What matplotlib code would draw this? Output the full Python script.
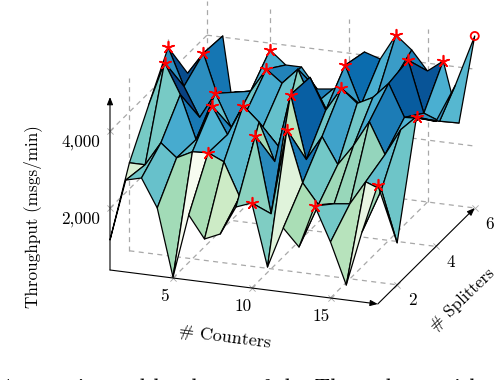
import numpy as np
import matplotlib
matplotlib.use("Agg")
import matplotlib.pyplot as plt
from mpl_toolkits.mplot3d.art3d import Line3DCollection

plt.rcParams['font.family'] = ['cmr10', 'DejaVu Serif']
plt.rcParams['axes.formatter.use_mathtext'] = True

counters = np.arange(1, 19)
splitters = np.arange(1, 7)

# Throughput (msgs/min), one list per number of splitters
thr_s1 = [1170,2780,2886,2158,416,2080,1508,1690,2444,2600,988,2054,1612,2730,1846,780,2210,3484]
thr_s2 = [2678,2678,3302,2964,3172,3198,3016,2158,3796,1820,4056,2730,2210,2288,2340,2964,2808,1482]
thr_s3 = [3692,4836,4056,2938,3874,3172,3978,3600,2626,4420,2782,3432,2756,3302,3978,3172,3874,4264]
thr_s4 = [4680,3718,2964,3640,2808,3302,2912,2470,3588,4368,3562,4186,3848,4056,4472,3640,3666,3640]
thr_s5 = [3510,4082,2912,3172,3250,3874,3562,3978,3094,2886,4238,3250,3510,3952,4576,3250,3094,4082]
thr_s6 = [3432,4030,1274,2704,3822,3484,3484,2964,3016,3172,4082,3952,4628,4290,3796,4108,2548,4862]

star_counters  = [1,2,2,5,6,4,5,7,10,9,11,6,10,14,18,12,11,13,15,16,18]
star_splitters = [4,3,5,6,5,4,3,3,3,2,2,2,1,1,1,4,5,6,5,6,3]
best_counter, best_splitter = 18, 6

xticks = [5, 10, 15]
yticks = [2, 4, 6]
zticks = [2000, 4000]
xmin, xmax, ymin, ymax, zmin, zmax = 1, 18, 1, 6, 390, 4888

Z = np.array([thr_s1, thr_s2, thr_s3, thr_s4, thr_s5, thr_s6], dtype=float)
X, Y = np.meshgrid(counters, splitters)

# Oblique projection of the pgfplots axis box, in figure pixels
EX, EY, EZ = (15.75, 2.0), (19.4, -19.2), (0.0, -1 / 26)
OX, OY = 110.0, 270.0
M = np.array([
    [EX[0], EY[0], EZ[0], OX - EX[0] * xmin - EY[0] * ymin],
    [EX[1], EY[1], EZ[1], OY - EX[1] * xmin - EY[1] * ymin - EZ[1] * zmin],
    [-1.0, 100.0, 0.0, 0.0],
    [0.0, 0.0, 0.0, 1.0],
])


def px(x, y, z):
    v = M @ np.array([x, y, z, 1.0])
    return v[0], v[1]


fig = plt.figure(figsize=(4.96, 3.80), dpi=100)
ax = fig.add_axes([0, 0, 1, 1], projection='3d', proj_type='ortho')
ax.get_proj = lambda: M
ax.apply_aspect = lambda position=None: None
ax.computed_zorder = False
ax.set_axis_off()
ax._viewLim.intervalx = (0, 496)
ax._viewLim.intervaly = (380, 0)

GRID = '#a8a8a8'
segs = []
for xt in xticks:
    segs.append([(xt, ymin, zmin), (xt, ymax, zmin)])
    segs.append([(xt, ymax, zmin), (xt, ymax, zmax)])
for yt in yticks:
    segs.append([(xmin, yt, zmin), (xmax, yt, zmin)])
    segs.append([(xmin, yt, zmin), (xmin, yt, zmax)])
for zt in zticks:
    segs.append([(xmin, ymin, zt), (xmin, ymax, zt)])
    segs.append([(xmin, ymax, zt), (xmax, ymax, zt)])
ax.add_collection3d(Line3DCollection(segs, colors=GRID, linewidths=0.9,
                                     linestyles=[(0, (4, 3.5))], zorder=1), autolim=False)

ax.scatter(xticks, [ymin] * 3, [zmin] * 3, marker='x', s=20, c=GRID, linewidths=0.6,
           depthshade=False, zorder=1.5)
ax.scatter([xmax] * 3, yticks, [zmin] * 3, marker='x', s=20, c=GRID, linewidths=0.6,
           depthshade=False, zorder=1.5)
ax.scatter([xmin] * 2, [ymin] * 2, zticks, marker='x', s=20, c=GRID, linewidths=0.6,
           depthshade=False, zorder=1.5)

# pgfplots "faceted" shader: each cell takes the colour of its first corner
norm = plt.Normalize(Z.min(), Z.max())
face = plt.get_cmap('GnBu')(norm(Z))
ax.plot_surface(X, Y, Z, rstride=1, cstride=1, facecolors=face, shade=False,
                edgecolor='black', linewidth=0.9, antialiased=True, zorder=2)

aprops = dict(arrowstyle='-|>,head_length=0.45,head_width=0.18', color='black', lw=0.8,
              shrinkA=0, shrinkB=0, mutation_scale=10)
o = px(xmin, ymin, zmin)
xe = px(xmax, ymin, zmin)
ye = px(xmax, ymax, zmin)
ze = px(xmin, ymin, zmax)
for start, end in [(o, xe), (xe, ye), (o, ze)]:
    ax.annotate('', xy=end, xytext=start, xycoords='data', textcoords='data',
                arrowprops=aprops, zorder=3, annotation_clip=False)

sz = [Z[s - 1, c - 1] for c, s in zip(star_counters, star_splitters)]
ax.scatter(star_counters, star_splitters, sz, marker=(5, 2, 0), s=70, c='#ff0000',
           linewidths=1.2, depthshade=False, zorder=5)
ax.scatter([best_counter], [best_splitter], [Z[best_splitter - 1, best_counter - 1]],
           marker='o', s=34, facecolors='none', edgecolors='#ff0000', linewidths=1.3,
           depthshade=False, zorder=5)

FS = 12.3
tkw = dict(transform=ax.transData, fontsize=FS, color='black', ha='center', va='center')
for xt in xticks:
    p = px(xt, ymin, zmin)
    ax.text2D(p[0] - 9, p[1] + 18, str(xt), **tkw)
for yt in yticks:
    p = px(xmax, yt, zmin)
    ax.text2D(p[0] + 15, p[1] + 16, str(yt), **tkw)
for zt in zticks:
    p = px(xmin, ymin, zt)
    ax.text2D(p[0] - 10, p[1] + 11, f'{zt:,}', transform=ax.transData, fontsize=FS,
              ha='right', va='center')

ax.text2D(225, 337, '# Counters', rotation=-7.3, rotation_mode='anchor',
          transform=ax.transData, fontsize=13, ha='center', va='center')
ax.text2D(462, 300, '# Splitters', rotation=44, rotation_mode='anchor', **tkw)
ax.text2D(33, 217, 'Throughput (msgs/min)', rotation=90, rotation_mode='anchor', **tkw)
ax.text2D(0, 378, 'Accuracies and hardware of the Throughput with', transform=ax.transData,
          fontsize=16, ha='left', va='top', clip_on=False)

fig.savefig('out.png', dpi=100)
